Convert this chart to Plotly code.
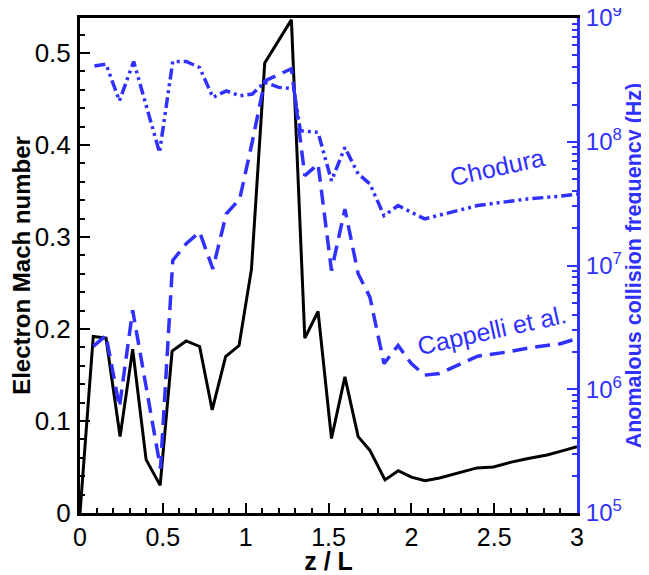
import plotly.graph_objects as go

# ---- data ----
x_mach = [0, 0.08, 0.157, 0.242, 0.318, 0.399, 0.484, 0.556, 0.641, 0.722, 0.798, 0.879,
          0.96, 1.035, 1.115, 1.276, 1.357, 1.437, 1.518, 1.599, 1.679, 1.75, 1.841, 1.921,
          2.0, 2.083, 2.17, 2.295, 2.396, 2.496, 2.597, 2.698, 2.819, 2.9, 3.0]
mach = [0, 0.192, 0.19, 0.083, 0.178, 0.058, 0.030, 0.176, 0.187, 0.181, 0.112, 0.170,
        0.182, 0.265, 0.489, 0.536, 0.19, 0.219, 0.081, 0.148, 0.083, 0.068, 0.036, 0.046,
        0.039, 0.035, 0.038, 0.044, 0.049, 0.050, 0.055, 0.059, 0.063, 0.067, 0.072]

x_cappelli = [0.08, 0.157, 0.238, 0.318, 0.486, 0.56, 0.641, 0.722, 0.802, 0.883, 0.964,
              1.04, 1.115, 1.276, 1.357, 1.437, 1.518, 1.599, 1.679, 1.75, 1.835, 1.92,
              2.0, 2.08, 2.17, 2.4, 2.58, 2.74, 2.9, 3.0]
nu_cappelli = [2.22e6, 2.72e6, 7.2e5, 4.34e6, 2.29e5, 1.1e7, 1.5e7, 1.86e7, 9.4e6, 2.61e7,
               3.45e7, 1.0e8, 3.1e8, 3.89e8, 5.32e7, 6.61e7, 9.1e6, 2.86e7, 8.57e6, 5.55e6,
               1.61e6, 2.26e6, 1.61e6, 1.30e6, 1.34e6, 1.85e6, 2.0e6, 2.19e6, 2.33e6, 2.57e6]

x_chodura = [0.087, 0.157, 0.238, 0.324, 0.48, 0.56, 0.641, 0.722, 0.802, 0.883, 0.964,
             1.04, 1.115, 1.2, 1.29, 1.33, 1.437, 1.518, 1.599, 1.679, 1.75, 1.835, 1.92,
             2.08, 2.4, 2.7, 2.9, 3.0]
nu_chodura = [4.10e8, 4.24e8, 2.14e8, 4.45e8, 8.2e7, 4.45e8, 4.45e8, 3.98e8, 2.28e8, 2.58e8,
              2.35e8, 2.43e8, 3.02e8, 2.75e8, 2.69e8, 1.23e8, 1.19e8, 4.84e7, 9.0e7, 5.5e7,
              4.57e7, 2.53e7, 3.05e7, 2.38e7, 3.05e7, 3.45e7, 3.63e7, 3.78e7]

label_chodura = "Chodura"
label_cappelli = "Cappelli et al."

nu_major = [1e5, 1e6, 1e7, 1e8, 1e9]
nu_major_text = ["10<sup>5</sup>", "10<sup>6</sup>", "10<sup>7</sup>", "10<sup>8</sup>", "10<sup>9</sup>"]
nu_minor = [m * d for d in [1e5, 1e6, 1e7, 1e8] for m in range(2, 10)]

BLUE = "#3030ff"
FONT = "Liberation Sans"

fig = go.Figure()
fig.add_trace(go.Scatter(x=x_mach, y=mach, mode="lines", yaxis="y",
                         line=dict(color="black", width=3)))
fig.add_trace(go.Scatter(x=x_cappelli, y=nu_cappelli, mode="lines", yaxis="y2",
                         line=dict(color=BLUE, width=3.5, dash="15px,8px")))
fig.add_trace(go.Scatter(x=x_chodura, y=nu_chodura, mode="lines", yaxis="y2",
                         line=dict(color=BLUE, width=3.5, dash="11px,4px,3px,4px,3px,4px")))

fig.add_annotation(x=2.52, y=7.8, xref="x", yref="y2", text=label_chodura,
                   showarrow=False, textangle=-12.5,
                   font=dict(family=FONT, size=25, color=BLUE))
fig.add_annotation(x=2.486, y=6.48, xref="x", yref="y2", text=label_cappelli,
                   showarrow=False, textangle=-12.5,
                   font=dict(family=FONT, size=25, color=BLUE))

# the page body adds an 8px offset, so the figure is 8px smaller than the window
fig.update_layout(
    width=641, height=567,
    margin=dict(l=72, r=72, t=10, b=62, autoexpand=False),
    plot_bgcolor="white", paper_bgcolor="white",
    showlegend=False,
    font=dict(family=FONT, size=26, color="black"),
    xaxis=dict(
        range=[0, 3], showgrid=False, zeroline=False, automargin=False,
        showline=True, linecolor="black", linewidth=3, mirror=True,
        ticks="inside", ticklen=10, tickwidth=2, tickcolor="black",
        dtick=0.5, tick0=0, ticklabeloverflow="allow",
        minor=dict(ticks="inside", dtick=0.1, ticklen=5, tickwidth=1.5, tickcolor="black", showgrid=False),
        tickfont=dict(size=25), ticklabelstandoff=0,
        title=dict(text="<b>z / L</b>", font=dict(size=25), standoff=0),
    ),
    yaxis=dict(
        range=[0, 0.538], showgrid=False, zeroline=False, automargin=False,
        showline=True, linecolor="black", linewidth=3,
        ticks="inside", ticklen=10, tickwidth=2, tickcolor="black",
        dtick=0.1, tick0=0, ticklabeloverflow="allow",
        minor=dict(ticks="inside", dtick=0.02, ticklen=5, tickwidth=1.5, tickcolor="black", showgrid=False),
        tickfont=dict(size=26), ticklabelstandoff=1,
        title=dict(text="<b>Electron Mach number</b>", font=dict(size=24), standoff=5),
    ),
    yaxis2=dict(
        type="log", range=[4.99999, 9.00001], overlaying="y", side="right",
        showgrid=False, zeroline=False, automargin=False,
        showline=True, linecolor=BLUE, linewidth=3,
        ticks="inside", ticklen=10, tickwidth=2, tickcolor=BLUE,
        tickmode="array", tickvals=nu_major, ticktext=nu_major_text,
        ticklabeloverflow="allow",
        minor=dict(ticks="inside", ticklen=5, tickwidth=1.5, tickcolor=BLUE,
                   tickmode="array", tickvals=nu_minor, showgrid=False),
        tickfont=dict(size=24, color=BLUE), ticklabelstandoff=1,
        title=dict(text="<b>Anomalous collision frequency (Hz)</b>", font=dict(size=21.5, color=BLUE), standoff=5),
    ),
)

fig.write_html("out.html")
